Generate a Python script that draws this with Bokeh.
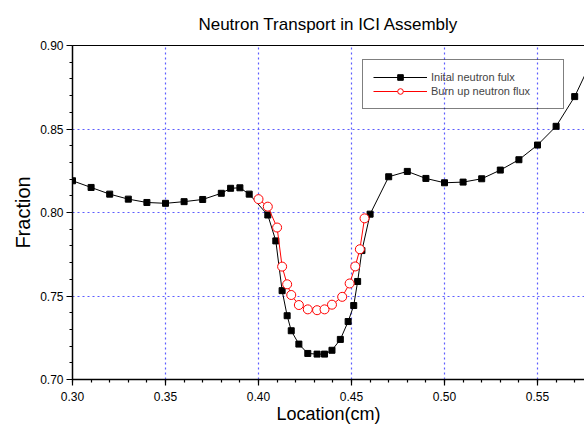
from bokeh.plotting import figure
from bokeh.models import (Range1d, LinearAxis, FixedTicker, PrintfTickFormatter,
                          Legend, LegendItem)
from bokeh.embed import file_html
from bokeh.resources import INLINE

FONT = "Liberation Sans"

title_text = "Neutron Transport in ICI Assembly"
x_label = "Location(cm)"
y_label = "Fraction"
initial_label = "Inital neutron fulx"
burnup_label = "Burn up neutron flux"

x_ticks = [0.30, 0.35, 0.40, 0.45, 0.50, 0.55]
y_ticks = [0.70, 0.75, 0.80, 0.85, 0.90]

initial_x = [0.30, 0.31, 0.32, 0.33, 0.34, 0.35, 0.36, 0.37, 0.38, 0.385, 0.39, 0.395,
             0.405, 0.4093, 0.4127, 0.4154, 0.4176, 0.4217, 0.4265, 0.4315, 0.4355,
             0.4395, 0.444, 0.4482, 0.4512, 0.4533, 0.4556, 0.46,
             0.47, 0.48, 0.49, 0.50, 0.51, 0.52, 0.53, 0.54, 0.55, 0.56, 0.57, 0.58]
initial_y = [0.819, 0.815, 0.811, 0.808, 0.806, 0.8055, 0.8065, 0.8078, 0.8115, 0.8145, 0.8148, 0.811,
             0.7985, 0.783, 0.7532, 0.7382, 0.7292, 0.7212, 0.7156, 0.7152, 0.7152,
             0.7175, 0.724, 0.7347, 0.7443, 0.7587, 0.7772, 0.799,
             0.8214, 0.8246, 0.8204, 0.8178, 0.8182, 0.8202, 0.8254, 0.8316, 0.8404, 0.8516, 0.8694, 0.893]

burnup_x = [0.40, 0.405, 0.41, 0.4127, 0.4154, 0.4176, 0.4217, 0.4265, 0.4315, 0.4355,
            0.4395, 0.445, 0.449, 0.452, 0.4545, 0.457]
burnup_y = [0.808, 0.8035, 0.791, 0.7676, 0.757, 0.7506, 0.7446, 0.742, 0.7415, 0.742,
            0.7448, 0.7495, 0.7575, 0.7677, 0.778, 0.7965]

x_end = 0.30 + 512 / 1860.0
x_minor = [round(0.30 + 0.01 * i, 2) for i in range(28)]
y_minor = [round(0.70 + 0.01 * i, 2) for i in range(21)]

p = figure(frame_width=512, frame_height=334,
           min_border_left=72, min_border_right=0, min_border_top=45, min_border_bottom=50,
           x_range=Range1d(0.30, x_end), y_range=Range1d(0.70, 0.90),
           output_backend="svg", toolbar_location=None)
p.outline_line_color = None
p.background_fill_color = "white"
p.border_fill_color = "white"

p.title.text = title_text
p.title.align = "center"
p.title.offset = -9
p.title.text_font = FONT
p.title.text_font_size = "17px"
p.title.text_font_style = "normal"
p.title.text_color = "black"
p.title.standoff = 24

# grid
p.xgrid.ticker = FixedTicker(ticks=x_ticks[1:])
p.ygrid.ticker = FixedTicker(ticks=y_ticks[1:-1])
for g in (p.xgrid, p.ygrid):
    g.grid_line_color = "#5c5cff"
    g.grid_line_dash = "2 3"
    g.grid_line_width = 1.2

for ax, ticks, minor in ((p.xaxis, x_ticks, x_minor), (p.yaxis, y_ticks, y_minor)):
    ax.ticker = FixedTicker(ticks=ticks, minor_ticks=minor)
    ax.formatter = PrintfTickFormatter(format="%.2f")
    ax.axis_line_color = "black"
    ax.axis_line_width = 1.5
    ax.major_tick_line_color = "black"
    ax.minor_tick_line_color = "black"
    ax.major_tick_line_width = 1.2
    ax.minor_tick_line_width = 1.2
    ax.major_tick_in = 0
    ax.major_tick_out = 6
    ax.minor_tick_in = 0
    ax.minor_tick_out = 3
    ax.major_label_text_font = FONT
    ax.major_label_text_font_size = "12px"
    ax.major_label_text_color = "black"
    ax.axis_label_text_font_style = "normal"
    ax.axis_label_text_color = "black"

p.xaxis.major_label_standoff = 6
p.yaxis.major_label_standoff = 3
p.xaxis.axis_label = x_label
p.xaxis.axis_label_text_font = FONT
p.xaxis.axis_label_text_font_size = "18px"
p.xaxis.axis_label_standoff = 0
p.yaxis.axis_label = y_label
p.yaxis.axis_label_text_font = FONT
p.yaxis.axis_label_text_font_size = "20px"
p.yaxis.axis_label_standoff = 3

top_axis = LinearAxis(ticker=FixedTicker(ticks=[]), axis_line_color="black",
                      axis_line_width=1.2,
                      major_tick_line_color=None, minor_tick_line_color=None,
                      major_label_text_font_size="0px")
p.add_layout(top_axis, "above")

r1 = p.line(initial_x, initial_y, line_color="black", line_width=1)
r2 = p.scatter(initial_x, initial_y, marker="square", size=6, color="black")
r3 = p.line(burnup_x, burnup_y, line_color="#ff0000", line_width=1)
r4 = p.scatter(burnup_x, burnup_y, marker="circle", size=9, line_color="#ff0000",
               fill_color="white", line_width=1)

legend = Legend(items=[LegendItem(label=initial_label, renderers=[r1, r2]),
                       LegendItem(label=burnup_label, renderers=[r3, r4])],
                location=(290, 270), padding=10, spacing=0, margin=0,
                glyph_width=54, glyph_height=14, label_height=14, label_width=122,
                label_standoff=4, border_line_color="black", border_line_width=1,
                background_fill_alpha=0,
                label_text_font=FONT, label_text_font_size="11px")
p.add_layout(legend)

open("out.html", "w").write(file_html(p, INLINE))
